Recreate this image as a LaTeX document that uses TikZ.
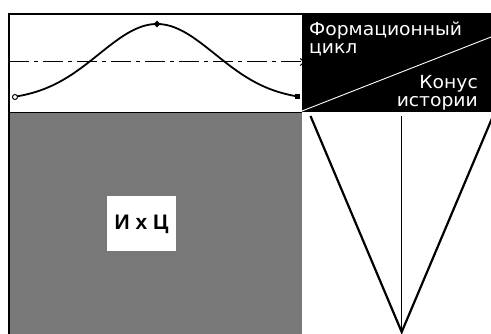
\documentclass[tikz,border=0pt]{standalone}
\usepackage{fontspec}
\setmainfont{DejaVu Sans}
\newfontfamily\labfont{Liberation Sans}
\usetikzlibrary{arrows.meta,shapes.geometric}
\definecolor{dither}{gray}{0.47}
\tikzset{
  frameline/.style={line width=2pt, black},
  wtext/.style={text=white, inner sep=0pt, font=\fontsize{18}{20}\selectfont},
  curveline/.style={line width=1.8pt, black},
  axisline/.style={line width=1pt, black, dash pattern=on 20pt off 5pt on 4pt off 5pt},
  coneline/.style={line width=2.2pt, black, line join=miter},
  marker/.style={inner sep=0pt, black},
}
\begin{document}
\begin{tikzpicture}[x=1pt,y=-1pt]
\useasboundingbox (0,0) rectangle (491,334);
% gray lower-left region
\fill[dither] (10,112.5) rectangle (302,334);
% black box top-right
\fill[black] (302,14) rectangle (491,112.5);
% frame
\draw[frameline] (9,334) -- (9,14) -- (491,14);
\draw[line width=1pt] (9,112.5) -- (302,112.5);
% diagonal in black box
\coordinate (d1) at (302,111);
\coordinate (d2) at (491,37);
\draw[white, line width=0.9pt] (d1) -- (d2);
% texts
\node[wtext, anchor=base west, xscale=1.04, transform shape] (f1) at (309,35.5) {Формационный};
\node[wtext, anchor=base west, xscale=1.04, transform shape] (f2) at (309,53.5) {цикл};
\node[wtext, anchor=base east, xscale=1.04, transform shape] (k1) at (478,89) {Конус};
\node[wtext, anchor=base east, xscale=1.04, transform shape] (k2) at (478,106.5) {истории};
% dash-dot axis with arrow
\coordinate (a0) at (9,62);
\coordinate (a1) at (305,62);
\draw[axisline, -{Straight Barb[length=4pt,width=7pt]}] (a0) -- (a1);
% bell curve
\draw[curveline] plot[domain=15:297, samples=90, smooth] (\x, {100.5-76.5*exp(-0.5*pow((\x-157)/58,2))});
\node[marker, circle, draw, fill=white, line width=1pt, minimum size=5pt] (p0) at (15,97) {};
\node[marker, diamond, fill, minimum size=7pt] (pk) at (157,24) {};
\node[marker, rectangle, fill, minimum size=5pt] (p1) at (297,96.5) {};
% label box
\node[fill=white, minimum width=69pt, minimum height=55pt, inner sep=0pt,
      font=\labfont\bfseries\fontsize{21}{22}\selectfont] (ixc) at (141.5,224) {И х Ц};
% cone
\coordinate (cl) at (310.5,116);
\coordinate (cr) at (493,116);
\coordinate (ap) at (401.7,332);
\coordinate (ct) at (401.7,116);
\draw[coneline] (cl) -- (ap) -- (cr);
\draw[line width=1.3pt] (ct) -- (ap);
\end{tikzpicture}
\end{document}
